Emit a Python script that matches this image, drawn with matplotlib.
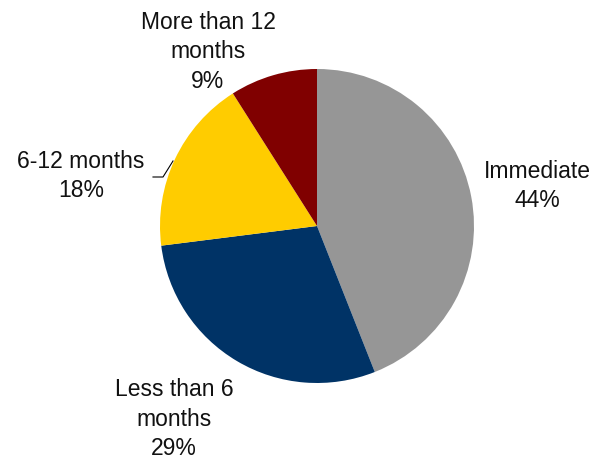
import matplotlib.pyplot as plt

labels = ["Immediate", "Less than 6\nmonths", "6-12 months", "More than 12\nmonths"]
shares = [44, 29, 18, 9]
colors = ["#969696", "#003366", "#FFCC00", "#800000"]

# label placement in pixel coords (y measured from the top)
label_pos = [(537, 186), (174, 419), (81, 176), (208, 52)]

plt.rcParams["font.family"] = ["Liberation Sans", "DejaVu Sans"]

fig = plt.figure(figsize=(6.02, 4.65), dpi=100)
ax = fig.add_axes([0, 0, 1, 1])

ax.pie(shares, colors=colors, startangle=90, counterclock=False,
       center=(317, 465 - 226), radius=157, frame=True)
ax.set_xlim(0, 602)
ax.set_ylim(0, 465)
ax.set_aspect("equal")
ax.axis("off")

for lab, val, (x, y) in zip(labels, shares, label_pos):
    ax.text(x, 465 - y, f"{lab}\n{val}%", ha="center", va="center",
            fontsize=16.5, color="#111111", linespacing=1.35)

# leader line for 6-12 months
ax.plot([153, 163, 173], [465 - 177, 465 - 177, 465 - 161], color="black", lw=0.8)

fig.savefig("out.png", dpi=100)
